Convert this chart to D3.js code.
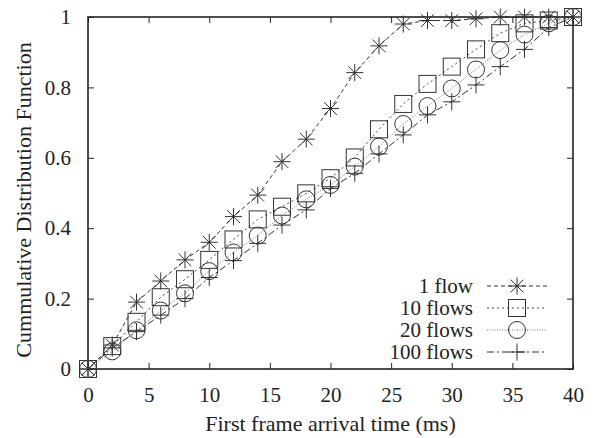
<!DOCTYPE html>
<html>
<head>
<meta charset="utf-8">
<script src="https://cdn.jsdelivr.net/npm/d3@7"></script>
</head>
<body style="margin:0; background:#fff">
<div id="chart"></div>
<script>
// datos
const times = [0, 2, 4, 6, 8, 10, 12, 14, 16, 18, 20, 22, 24, 26, 28, 30, 32, 34, 36, 38, 40];
const flow1 = [0, 0.068, 0.19, 0.25, 0.31, 0.36, 0.433, 0.494, 0.589, 0.653, 0.74, 0.842, 0.918, 0.98, 0.99, 0.99, 0.995, 1, 1, 1, 1];
const flows10 = [0, 0.065, 0.134, 0.204, 0.255, 0.31, 0.368, 0.425, 0.461, 0.499, 0.542, 0.601, 0.681, 0.753, 0.81, 0.859, 0.908, 0.954, 0.982, 0.99, 1];
const flows20 = [0, 0.05, 0.11, 0.166, 0.215, 0.278, 0.331, 0.379, 0.436, 0.482, 0.523, 0.575, 0.632, 0.696, 0.747, 0.797, 0.851, 0.906, 0.95, 0.982, 1];
const flows100 = [0, 0.06, 0.106, 0.153, 0.2, 0.26, 0.308, 0.357, 0.409, 0.452, 0.513, 0.556, 0.611, 0.665, 0.722, 0.759, 0.807, 0.859, 0.908, 0.97, 1];
const seriesNames = ["1 flow", "10 flows", "20 flows", "100 flows"];
const xTicks = [0, 5, 10, 15, 20, 25, 30, 35, 40];
const yTicks = [0, 0.2, 0.4, 0.6, 0.8, 1];

const series = [
    { name: seriesNames[0], values: flow1, marker: "star", dash: "4,3", color: "#333" },
    { name: seriesNames[1], values: flows10, marker: "square", dash: "2,3", color: "#444" },
    { name: seriesNames[2], values: flows20, marker: "circle", dash: "1,1.5", color: "#777" },
    { name: seriesNames[3], values: flows100, marker: "plus", dash: "7,3,2,3", color: "#333" }
];

const serif = "'Liberation Serif', 'Times New Roman', Tinos";
const W = 597, H = 438;
const margin = { top: 17, right: 24, bottom: 69, left: 88 },
    width = W - margin.left - margin.right,
    height = H - margin.top - margin.bottom;

const svg = d3.select("body").append("svg")
    .attr("width", W)
    .attr("height", H);

const g = svg.append("g").attr("transform", `translate(${margin.left},${margin.top})`);

// escalas
const x = d3.scaleLinear().domain([0, 40]).range([0, width]);
const y = d3.scaleLinear().domain([0, 1]).range([height, 0]);

// ejes con marcas hacia dentro
const fs = "21px";
g.append("g")
    .attr("transform", `translate(0,${height})`)
    .call(d3.axisBottom(x).tickValues(xTicks).tickSizeInner(-6).tickSizeOuter(0).tickPadding(18).tickFormat(d3.format("d")))
    .call(a => a.select(".domain").remove());
g.append("g")
    .call(d3.axisTop(x).tickValues(xTicks).tickSizeInner(-6).tickSizeOuter(0).tickFormat(""))
    .call(a => a.select(".domain").remove());
g.append("g")
    .call(d3.axisLeft(y).tickValues(yTicks).tickSizeInner(-6).tickSizeOuter(0).tickPadding(17).tickFormat(d => d === 0 || d === 1 ? d3.format("d")(d) : d3.format(".1f")(d)))
    .call(a => a.select(".domain").remove());
g.append("g")
    .attr("transform", `translate(${width},0)`)
    .call(d3.axisRight(y).tickValues(yTicks).tickSizeInner(-6).tickSizeOuter(0).tickFormat(""))
    .call(a => a.select(".domain").remove());
g.selectAll(".tick line").attr("stroke", "#222");
g.selectAll("g").attr("font-family", null);
g.selectAll(".tick text")
    .style("font-family", serif)
    .style("font-size", fs)
    .attr("fill", "#222");

g.append("rect")
    .attr("width", width)
    .attr("height", height)
    .attr("fill", "none")
    .attr("stroke", "#222")
    .attr("stroke-width", 1.6);

// marcadores
function drawMarker(sel, type, cx, cy) {
    const r = 8.5;
    const m = sel.append("g").attr("transform", `translate(${cx},${cy})`)
        .attr("fill", "none").attr("stroke", "#333").attr("stroke-width", 1);
    if (type === "star") {
        m.append("path").attr("d", `M${-r},0H${r}M0,${-r}V${r}M${-r * 0.75},${-r * 0.75}L${r * 0.75},${r * 0.75}M${-r * 0.75},${r * 0.75}L${r * 0.75},${-r * 0.75}`);
    } else if (type === "square") {
        m.append("rect").attr("x", -r).attr("y", -r).attr("width", 2 * r).attr("height", 2 * r);
    } else if (type === "circle") {
        m.append("circle").attr("r", r);
    } else {
        m.append("path").attr("d", `M${-r},0H${r}M0,${-r}V${r}`);
    }
}

const line = d3.line().x((d, i) => x(times[i])).y(d => y(d));

series.forEach(s => {
    g.append("path")
        .datum(s.values)
        .attr("fill", "none")
        .attr("stroke", s.color)
        .attr("stroke-width", 1)
        .attr("stroke-dasharray", s.dash)
        .attr("d", line);
    s.values.forEach((v, i) => drawMarker(g, s.marker, x(times[i]), y(v)));
});

// leyenda
const legend = svg.append("g").attr("transform", "translate(0,286)");
series.forEach((s, i) => {
    const row = legend.append("g").attr("transform", `translate(0,${i * 22})`);
    row.append("text")
        .attr("x", 473)
        .attr("dy", "0.35em")
        .attr("text-anchor", "end")
        .attr("fill", "#222")
        .style("font-family", serif)
        .style("font-size", fs)
        .text(s.name);
    row.append("line")
        .attr("x1", 487).attr("x2", 547)
        .attr("stroke", s.color)
        .attr("stroke-dasharray", s.dash);
    drawMarker(row, s.marker, 517, 0);
});

// titulos de ejes
svg.append("text")
    .attr("x", margin.left + width / 2)
    .attr("y", 431)
    .attr("text-anchor", "middle")
    .attr("fill", "#222")
    .style("font-family", serif)
    .style("font-size", "22px")
    .text("First frame arrival time (ms)");

svg.append("text")
    .attr("transform", "translate(31,200) rotate(-90)")
    .attr("text-anchor", "middle")
    .attr("fill", "#222")
    .style("font-family", serif)
    .style("font-size", "22px")
    .text("Cummulative Distribution Function");
</script>
</body>
</html>
